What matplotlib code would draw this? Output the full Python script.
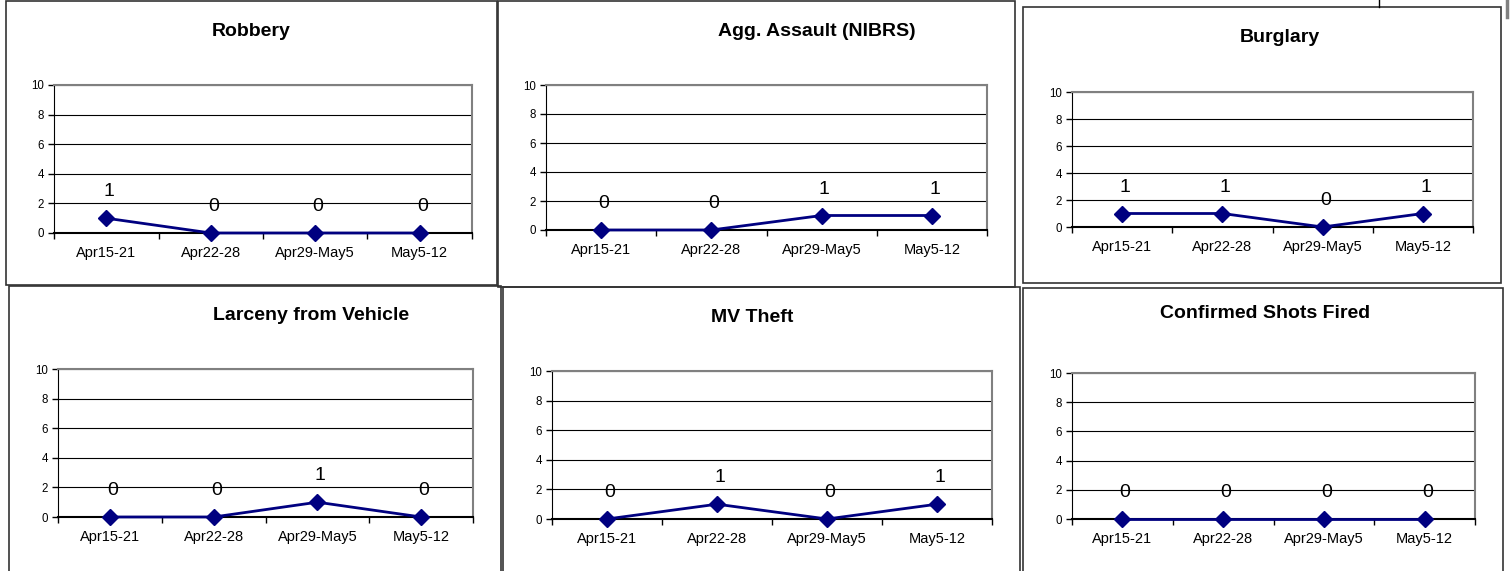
import matplotlib
matplotlib.use("Agg")
import matplotlib.pyplot as plt
from matplotlib.patches import Rectangle

plt.rcParams['font.family'] = ['Liberation Sans', 'DejaVu Sans']

weeks = ['Apr15-21', 'Apr22-28', 'Apr29-May5', 'May5-12']
titles = ['Robbery', 'Agg. Assault (NIBRS)', 'Burglary',
          'Larceny from Vehicle', 'MV Theft', 'Confirmed Shots Fired']
robbery = [1, 0, 0, 0]
agg_assault = [0, 0, 1, 1]
burglary = [1, 1, 0, 1]
larceny_vehicle = [0, 0, 1, 0]
mv_theft = [0, 1, 0, 1]
shots_fired = [0, 0, 0, 0]
series = [robbery, agg_assault, burglary, larceny_vehicle, mv_theft, shots_fired]
yticks = [0, 2, 4, 6, 8, 10]

W, H = 1510, 571
# layout in pixels: frame box (l, t, r, b), plot area (l, t, r, b), title (x, y)
boxes = [(6, 1, 497, 285), (498, 1, 1015, 287), (1023, 7, 1501, 283),
         (9, 286, 501, 575), (503, 287, 1020, 575), (1023, 288, 1503, 575)]
areas = [(54, 85, 472, 233), (546, 85, 987, 230), (1072, 92, 1473, 227),
         (58, 369, 473, 517), (552, 371, 992, 519), (1072, 373, 1475, 519)]
title_pos = [(251, 32), (817, 32), (1280, 37), (311, 315), (752, 317), (1265, 313)]

navy = '#000080'

fig = plt.figure(figsize=(W / 100, H / 100), dpi=100)
fig.patch.set_facecolor('white')

# bits of another frame peeking out at top right
fig.add_artist(plt.Line2D([1379 / W, 1379 / W], [1, 1 - 7 / H], color='black', lw=1))
fig.add_artist(plt.Line2D([1507 / W, 1507 / W], [1, 1 - 17 / H], color='#808080', lw=2.5))

for k in range(6):
    bl, bt, br, bb = boxes[k]
    fig.add_artist(Rectangle((bl / W, 1 - bb / H), (br - bl) / W, (bb - bt) / H,
                             transform=fig.transFigure, fill=False,
                             edgecolor='#333333', lw=1.2))
    al, at, ar, ab = areas[k]
    ax = fig.add_axes([al / W, 1 - ab / H, (ar - al) / W, (ab - at) / H])
    x = range(len(weeks))
    ax.plot(x, series[k], color=navy, lw=2, marker='D', ms=8,
            markeredgecolor=navy, zorder=5, clip_on=False)
    for i, v in enumerate(series[k]):
        ax.annotate(str(v), (i, v), xytext=(2, 19), textcoords='offset points',
                    ha='center', va='center', fontsize=14, color='black')
    ax.set_xlim(-0.5, len(weeks) - 0.5)
    ax.set_ylim(0, 10)
    ax.set_yticks(yticks)
    ax.set_yticklabels([str(t) for t in yticks], fontsize=8.3)
    ax.set_xticks(list(x))
    ax.set_xticklabels(weeks, fontsize=10.5)
    ax.tick_params(axis='x', length=0, pad=9.5)
    ax.set_xticks([i - 0.5 for i in range(len(weeks) + 1)], minor=True)
    ax.tick_params(axis='x', which='minor', length=4, direction='out', width=1)
    ax.tick_params(axis='y', length=4, direction='out', width=1, pad=3)
    ax.grid(axis='y', color='black', lw=0.8)
    ax.set_axisbelow(True)
    for s in ['top', 'right']:
        ax.spines[s].set_color('#808080')
        ax.spines[s].set_linewidth(1.5)
    ax.spines['left'].set_color('black')
    ax.spines['bottom'].set_color('black')
    ax.spines['bottom'].set_linewidth(1.5)
    fig.text(title_pos[k][0] / W, 1 - title_pos[k][1] / H, titles[k],
             ha='center', va='center', fontsize=14, fontweight='bold')

fig.savefig('out.png', dpi=100)
